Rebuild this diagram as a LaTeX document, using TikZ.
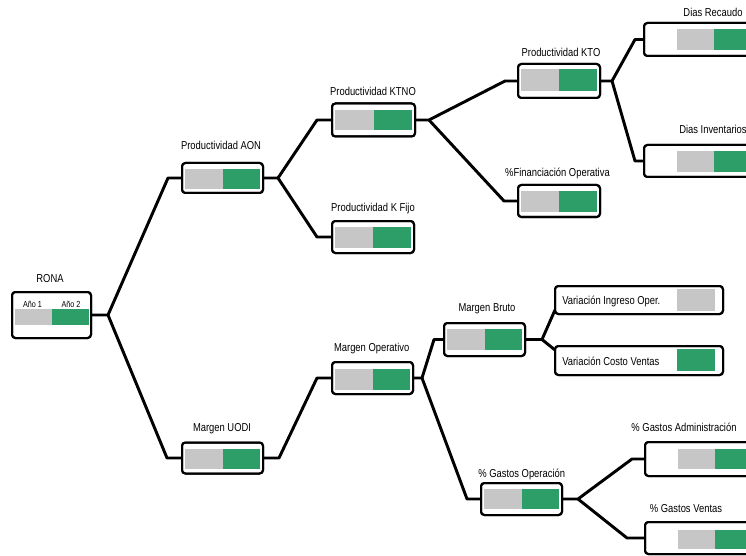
\documentclass[tikz,border=0pt]{standalone}
\usepackage{fontspec}
\setmainfont{Liberation Sans}[FakeStretch=0.82]
\usetikzlibrary{calc}
\definecolor{barg}{RGB}{198,198,198}
\definecolor{barv}{RGB}{46,158,104}
\tikzset{
  box/.style 2 args={draw=black, line width=1.5pt, rounded corners=2.5pt, fill=white,
    minimum width=#1*0.75pt, minimum height=#2*0.75pt, inner sep=0pt, outer sep=0pt},
  lbl/.style={font=\fontsize{8.6}{10}\selectfont, anchor=base, inner sep=0pt},
  lbll/.style={font=\fontsize{8.6}{10}\selectfont, anchor=base west, inner sep=0pt},
  small/.style={font=\fontsize{6.6}{8}\selectfont, anchor=base, inner sep=0pt},
  conn/.style={line width=2.2pt, line join=round},
}
% node, x offset, segment width, top inset, bottom inset
\newcommand\mybars[5]{%
  \fill[barg] ($(#1.north west)+(#2,#4)$) rectangle ($(#1.south west)+({#2+#3},{-#5})$);
  \fill[barv] ($(#1.north west)+({#2+#3},#4)$) rectangle ($(#1.south west)+({#2+2*#3},{-#5})$);}
\begin{document}
\begin{tikzpicture}[x=0.75pt,y=-0.75pt]
\useasboundingbox (0,0) rectangle (746,556);
\clip (0,0) rectangle (746,556);
\fill[white] (0,0) rectangle (746,556);

% fork and corner coordinates
\coordinate (f1) at (108,315);
\coordinate (c1a) at (168,178);
\coordinate (c1b) at (167,458);
\coordinate (f2) at (278,178);
\coordinate (c2a) at (317,120);
\coordinate (c2b) at (317,237);
\coordinate (f3) at (429,120);
\coordinate (c3a) at (505,81);
\coordinate (c3b) at (504,201);
\coordinate (f4) at (612,81);
\coordinate (c4a) at (635,39.5);
\coordinate (c4b) at (635,161);
\coordinate (f5) at (279,458);
\coordinate (c5) at (317,378);
\coordinate (f6) at (422,378);
\coordinate (c6a) at (434,339.5);
\coordinate (c6b) at (467,499);
\coordinate (f7) at (542,339.5);
\coordinate (f8) at (578,499);
\coordinate (c8a) at (632,459);
\coordinate (c8b) at (627,538);

% boxes
\node[box={79}{46}] (rona) at (51.5,315) {};
\node[box={81}{30}] (aon) at (222.5,178) {};
\node[box={81}{31}] (uodi) at (222.5,458) {};
\node[box={83}{33}] (ktno) at (373.5,120) {};
\node[box={82}{32}] (kfijo) at (373,237) {};
\node[box={81}{32}] (mop) at (372.5,378) {};
\node[box={82}{34}] (kto) at (559,81) {};
\node[box={82}{32}] (fin) at (559,201) {};
\node[box={81}{33}] (mbruto) at (484.5,339.5) {};
\node[box={81}{32}] (gop) at (521.5,499) {};
\node[box={168}{28}] (vio) at (639,300) {};
\node[box={168}{29}] (vcv) at (639,360.5) {};
\node[box={138}{33}] (drec) at (713,39.5) {};
\node[box={138}{32}] (dinv) at (713,161) {};
\node[box={138}{34}] (gadm) at (714,459) {};
\node[box={138}{32}] (gven) at (714,538) {};

% connectors
\draw[conn] (rona.east) -- (f1) -- (c1a) -- (aon.west);
\draw[conn] (f1) -- (c1b) -- (uodi.west);
\draw[conn] (aon.east) -- (f2) -- (c2a) -- (ktno.west);
\draw[conn] (f2) -- (c2b) -- (kfijo.west);
\draw[conn] (ktno.east) -- (f3) -- (c3a) -- (kto.west);
\draw[conn] (f3) -- (c3b) -- (fin.west);
\draw[conn] (kto.east) -- (f4) -- (c4a) -- (drec.west);
\draw[conn] (f4) -- (c4b) -- (dinv.west);
\draw[conn] (uodi.east) -- (f5) -- (c5) -- (mop.west);
\draw[conn] (mop.east) -- (f6) -- (c6a) -- (mbruto.west);
\draw[conn] (f6) -- (c6b) -- (gop.west);
\draw[conn] (mbruto.east) -- (f7) -- ($(vio.south west)+(0,-4)$);
\draw[conn] (f7) -- ($(vcv.north west)+(0,4)$);
\draw[conn] (gop.east) -- (f8) -- (c8a) -- (gadm.west);
\draw[conn] (f8) -- (c8b) -- (gven.west);

% redraw boxes on top of connector ends
\foreach \n in {rona,aon,uodi,ktno,kfijo,mop,kto,fin,mbruto,gop,vio,vcv,drec,dinv,gadm,gven}{
  \draw[line width=1.5pt, rounded corners=2.5pt] (\n.north west) rectangle (\n.south east);}

% bars
\mybars{rona}{3}{37}{17}{13}
\mybars{aon}{3}{37.5}{6}{4}
\mybars{uodi}{3}{37.5}{6}{5}
\mybars{ktno}{3}{38.5}{7}{6}
\mybars{kfijo}{3}{38}{6}{5}
\mybars{mop}{3}{37.5}{7}{4}
\mybars{kto}{3}{38}{5}{7}
\mybars{fin}{3}{38}{6}{5}
\mybars{mbruto}{3}{37.5}{6}{6}
\mybars{gop}{3}{37.5}{6}{6}
\mybars{drec}{33}{37}{6}{6}
\mybars{dinv}{33}{37}{6}{5}
\mybars{gadm}{33}{37}{7}{7}
\mybars{gven}{33}{37}{8}{5}
\fill[barg] ($(vio.north west)+(122,3)$) rectangle ($(vio.south west)+(160,-3)$);
\fill[barv] ($(vcv.north west)+(122,3)$) rectangle ($(vcv.south west)+(160,-4)$);

% labels
\node[lbl] (l-rona) at (50,282) {RONA};
\node[small] (l-a1) at (32.5,307) {Año 1};
\node[small] (l-a2) at (71,307) {Año 2};
\node[lbl] (l-aon) at (221,150) {Productividad AON};
\node[lbl] (l-uodi) at (222,431) {Margen UODI};
\node[lbl] (l-ktno) at (373,96) {Productividad KTNO};
\node[lbl] (l-kfijo) at (373,211) {Productividad K Fijo};
\node[lbl] (l-mop) at (371.7,351) {Margen Operativo};
\node[lbl] (l-kto) at (561,57) {Productividad KTO};
\node[lbl] (l-fin) at (557.5,177) {\%Financiación Operativa};
\node[lbl] (l-mbruto) at (487,311) {Margen Bruto};
\node[lbl] (l-gop) at (521.7,477) {\% Gastos Operación};
\node[lbl] (l-drec) at (713,17) {Dias Recaudo};
\node[lbll] (l-dinv) at (679,134) {Dias Inventarios};
\node[lbl] (l-gadm) at (684,431) {\% Gastos Administración};
\node[lbl] (l-gven) at (686,512) {\% Gastos Ventas};
\node[lbll] (l-vio) at (562,304) {Variación Ingreso Oper.};
\node[lbll] (l-vcv) at (562,365) {Variación Costo Ventas};
\end{tikzpicture}
\end{document}
